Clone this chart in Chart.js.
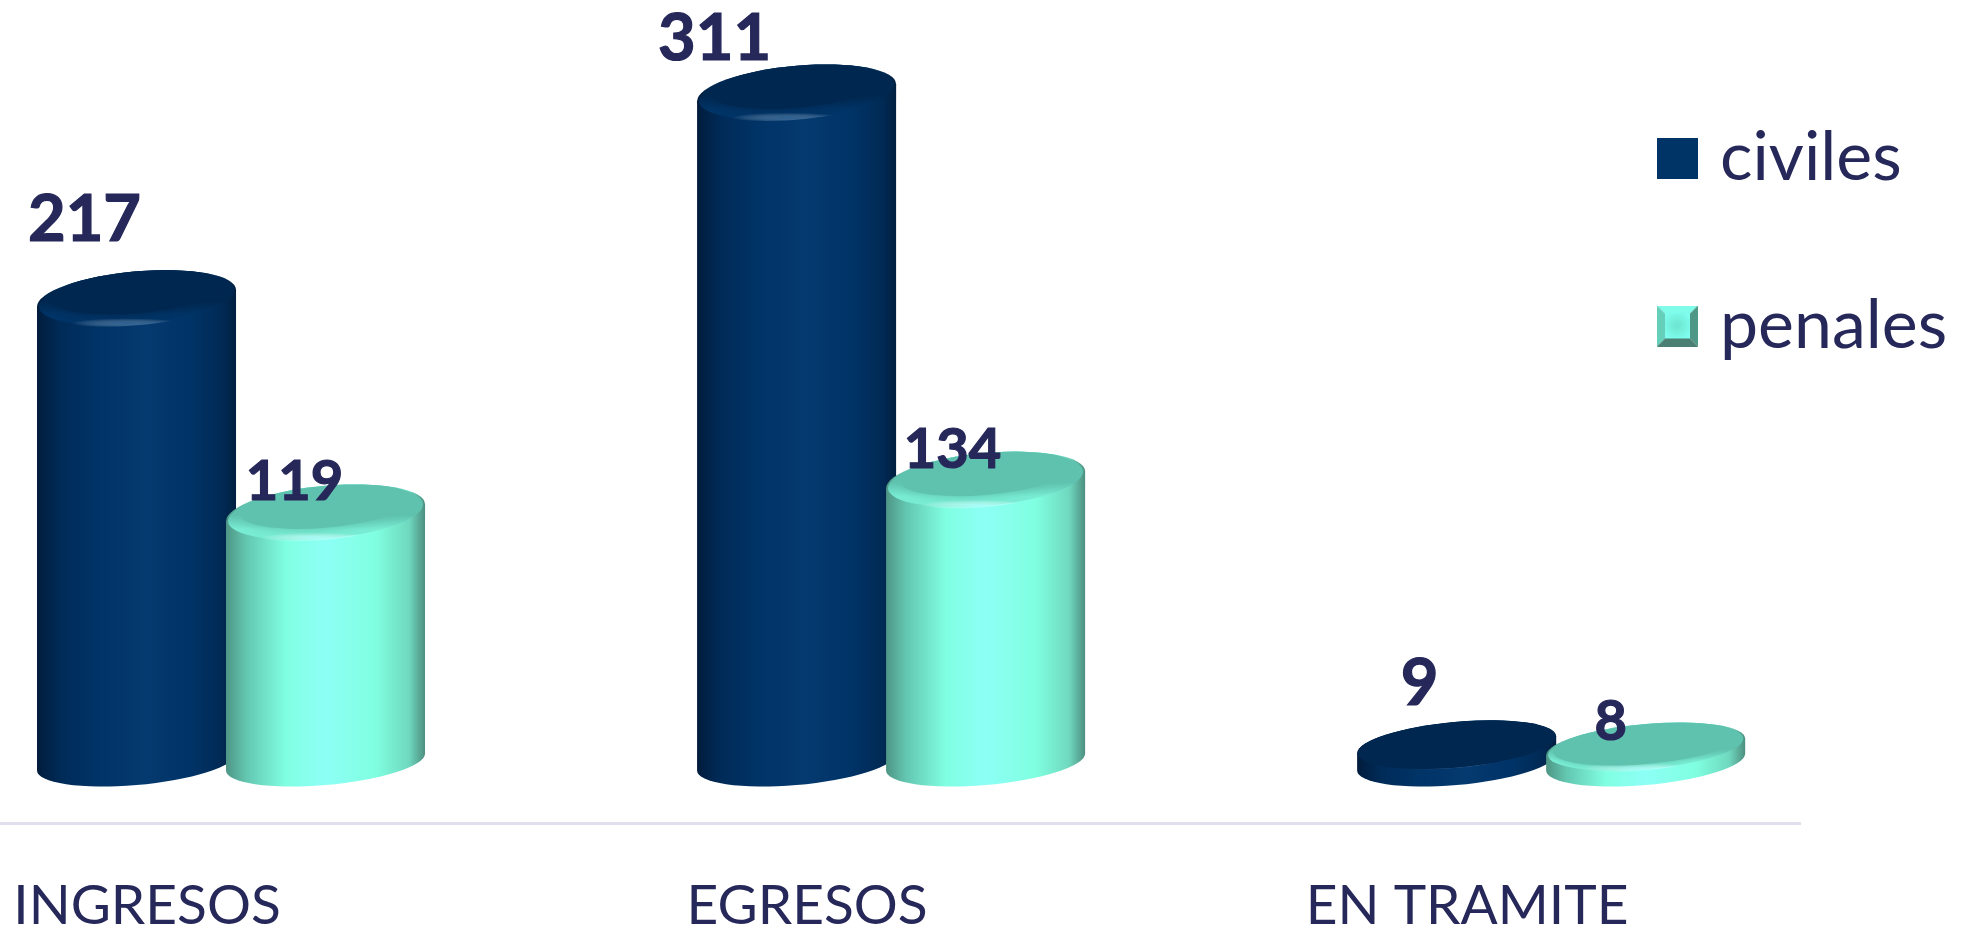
<!DOCTYPE html>
<html>
<head>
<meta charset="utf-8">
<title>Ingresos y egresos</title>
<script src="https://cdn.jsdelivr.net/npm/chart.js@4"></script>
<style>
    html, body { margin: 0; padding: 0; background: #fff; overflow: hidden; }
    canvas { display: block; }
</style>
</head>
<body>
<canvas id="chart" width="1974" height="928"></canvas>
<script>
const categories = ["INGRESOS", "EGRESOS", "EN TRAMITE"];
const civiles = [217, 311, 9];
const penales = [119, 134, 8];

// where each value label sits, relative to the top of its cylinder
const labelDx = [[-52, -82, -37], [-31, -33, -35]];
const labelDy = [[-57, -33, -48], [-13, -12, -15]];
const labelSize = [[65, 65, 65], [56, 56, 56]];

const TEXT = "#26285a";
const FONT = "Lato";

const looks = [
    {
        body: [[0, "#011c3c"], [0.12, "#002b58"], [0.3, "#003366"], [0.55, "#053a70"], [0.78, "#003366"], [0.93, "#012a55"], [1, "#011f40"]],
        rim: "#003366", glow: "rgba(70,125,175,0.6)", face: "#00274f", discBevel: 0.5
    },
    {
        body: [[0, "#4e9585"], [0.1, "#63c6b0"], [0.3, "#80ffe2"], [0.5, "#8dfff6"], [0.75, "#80ffe0"], [0.92, "#6fd8be"], [1, "#4d8f80"]],
        rim: "#78ecd3", glow: "rgba(170,255,255,0.9)", face: "#5fc2ae", discBevel: 7
    }
];

const SHEAR = -0.085;
const FLOOR_LIFT = 11; // the cylinders stand a little above the zero line
const DISC_LIFT = 8.5; // very short ones keep their full thickness

function bodyGradient(ctx, left, right, stops) {
    const g = ctx.createLinearGradient(left, 0, right, 0);
    stops.forEach(s => g.addColorStop(s[0], s[1]));
    return g;
}

function capPath(ctx, cx, cy, rx, ry) {
    ctx.save();
    ctx.transform(1, SHEAR, 0, 1, cx, cy);
    ctx.beginPath();
    ctx.ellipse(0, 0, rx, ry, 0, 0, Math.PI * 2);
    ctx.restore();
}

function drawCylinder(ctx, bar, look) {
    const rx = bar.width / 2;
    const left = bar.x - rx, right = bar.x + rx;
    const rise = SHEAR * rx;
    const tall = bar.base - bar.y > 60;
    const ry = tall ? 27 : 23;
    const topY = tall ? bar.y : bar.y - DISC_LIFT;
    const baseY = bar.base - FLOOR_LIFT;

    ctx.fillStyle = bodyGradient(ctx, left, right, look.body);
    ctx.beginPath();
    ctx.moveTo(right, topY + rise);
    ctx.lineTo(right, baseY + rise);
    ctx.save();
    ctx.transform(1, SHEAR, 0, 1, bar.x, baseY);
    ctx.ellipse(0, 0, rx, 23, 0, 0, Math.PI);
    ctx.restore();
    ctx.lineTo(left, topY - rise);
    ctx.closePath();
    ctx.fill();

    // bevel around the top, then a soft highlight and the flat face
    const bevel = tall ? 14 : look.discBevel;
    ctx.fillStyle = bodyGradient(ctx, left, right, look.body);
    capPath(ctx, bar.x, topY, rx, ry);
    ctx.fill();
    const rimFill = ctx.createLinearGradient(0, topY - ry, 0, topY + ry);
    rimFill.addColorStop(0, look.face);
    rimFill.addColorStop(0.55, look.face);
    rimFill.addColorStop(0.8, look.rim);
    rimFill.addColorStop(1, look.rim);
    ctx.fillStyle = rimFill;
    capPath(ctx, bar.x, topY, rx - 2, ry - 1);
    ctx.fill();

    ctx.save();
    capPath(ctx, bar.x, topY, rx, ry);
    ctx.clip();

    ctx.save();
    ctx.translate(bar.x - 10, topY + ry - 2);
    ctx.scale(1, 0.09);
    const glow = ctx.createRadialGradient(0, 0, 0, 0, 0, 55);
    glow.addColorStop(0, look.glow);
    glow.addColorStop(1, "rgba(255,255,255,0)");
    ctx.fillStyle = glow;
    ctx.fillRect(-60, -60, 120, 120);
    ctx.restore();

    ctx.shadowColor = look.face;
    ctx.shadowBlur = bevel * 0.7;
    ctx.fillStyle = look.face;
    capPath(ctx, bar.x, topY - bevel * 0.46, rx - bevel, ry - bevel * 0.39);
    ctx.fill();
    ctx.restore();
}

function makeSwatch(draw) {
    const c = document.createElement("canvas");
    c.width = 41;
    c.height = 41;
    draw(c.getContext("2d"));
    return c;
}

function side(g, pts, color) {
    g.fillStyle = color;
    g.beginPath();
    pts.forEach((p, i) => i ? g.lineTo(p[0], p[1]) : g.moveTo(p[0], p[1]));
    g.closePath();
    g.fill();
}

const swatches = [
    makeSwatch(g => {
        g.fillStyle = "#003366";
        g.fillRect(0, 0, 41, 41);
    }),
    makeSwatch(g => {
        side(g, [[0, 0], [41, 0], [33, 8], [8, 8]], "#7ffcea");
        side(g, [[0, 0], [8, 8], [8, 33], [0, 41]], "#66cfb9");
        side(g, [[41, 0], [33, 8], [33, 33], [41, 41]], "#4f9787");
        side(g, [[0, 41], [8, 33], [33, 33], [41, 41]], "#4c7f74");
        const fill = g.createRadialGradient(20, 20, 2, 20, 20, 16);
        fill.addColorStop(0, "#6ee8d2");
        fill.addColorStop(1, "#80fff0");
        g.fillStyle = fill;
        g.fillRect(8, 8, 25, 25);
    })
];

const cylinders = {
    id: "cylinders",
    afterLayout(chart) {
        // the legend is free of the plot, top right of the picture
        const legend = chart.legend;
        legend.left = 1569;
        legend.top = 24;
        legend.right = 1974;
        legend.bottom = 900;
    },
    beforeDatasetDraw() {
        return false;
    },
    afterDatasetsDraw(chart) {
        const ctx = chart.ctx;
        chart.data.datasets.forEach((ds, d) => {
            chart.getDatasetMeta(d).data.forEach(bar => drawCylinder(ctx, bar, looks[d]));
        });
        ctx.fillStyle = TEXT;
        ctx.strokeStyle = TEXT;
        ctx.lineWidth = 1.2;
        ctx.textAlign = "center";
        ctx.textBaseline = "alphabetic";
        chart.data.datasets.forEach((ds, d) => {
            chart.getDatasetMeta(d).data.forEach((bar, i) => {
                ctx.font = "bold " + labelSize[d][i] + "px " + FONT;
                ctx.fillText(ds.data[i].y, bar.x + labelDx[d][i], bar.y + labelDy[d][i]);
                ctx.strokeText(ds.data[i].y, bar.x + labelDx[d][i], bar.y + labelDy[d][i]);
            });
        });
    }
};

new Chart(document.getElementById("chart"), {
    type: "bar",
    data: {
        datasets: [
            { label: "civiles", data: civiles.map((v, i) => ({ x: i, y: v })), backgroundColor: "#003366" },
            { label: "penales", data: penales.map((v, i) => ({ x: i, y: v })), backgroundColor: "#80ffee" }
        ]
    },
    options: {
        responsive: false,
        animation: false,
        layout: { padding: { left: 0, right: 174, top: 0, bottom: 0 } },
        categoryPercentage: 0.5727,
        barPercentage: 1.053,
        plugins: {
            tooltip: { enabled: false },
            legend: {
                position: "chartArea",
                align: "start",
                labels: {
                    usePointStyle: true,
                    pointStyleWidth: 17,
                    boxHeight: 41,
                    padding: 100,
                    color: TEXT,
                    font: { family: FONT, size: 68 },
                    generateLabels: chart => chart.data.datasets.map((ds, i) => ({
                        text: ds.label,
                        fontColor: TEXT,
                        pointStyle: swatches[i],
                        datasetIndex: i
                    }))
                }
            }
        },
        scales: {
            x: {
                type: "linear",
                min: -0.35,
                max: 2.377,
                offset: false,
                grid: { display: false, drawTicks: false },
                border: { display: true, color: "#dfdfee", width: 3 },
                afterBuildTicks: scale => {
                    scale.ticks = categories.map((c, i) => ({ value: i }));
                },
                afterFit: scale => {
                    scale.height = 105;
                },
                ticks: {
                    autoSkip: false,
                    maxRotation: 0,
                    padding: 56,
                    labelOffset: -84,
                    color: TEXT,
                    font: { family: FONT, size: 55, lineHeight: 1 },
                    callback: v => categories[v]
                }
            },
            y: {
                display: false,
                min: -22.86,
                max: 353.37
            }
        }
    },
    plugins: [cylinders]
});
</script>
</body>
</html>
